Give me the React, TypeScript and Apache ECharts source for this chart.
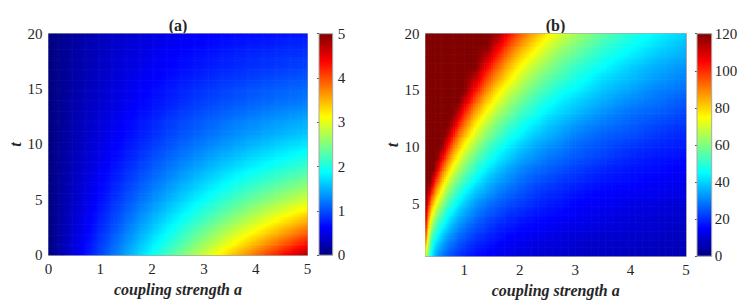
import React, { useEffect, useRef } from "react";
import * as echarts from "echarts";

// ---------- Panel (a): values at grid nodes, rows = t, columns = coupling strength a ----------
const aValuesA = [0, 0.25, 0.5, 0.75, 1, 1.25, 1.5, 1.75, 2, 2.25, 2.5, 2.75, 3, 3.25, 3.5, 3.75, 4, 4.25, 4.5, 4.75, 5];
const tValuesA = [0, 1, 2, 3, 4, 5, 6, 7, 8, 9, 10, 11, 12, 13, 14, 15, 16, 17, 18, 19, 20];
const zValuesA = [
  [0, .24, .48, .72, .96, 1.2, 1.44, 1.68, 1.92, 2.16, 2.4, 2.64, 2.88, 3.12, 3.36, 3.6, 3.84, 4.08, 4.32, 4.56, 4.8],
  [0, .23, .45, .67, .90, 1.12, 1.34, 1.56, 1.78, 2.00, 2.21, 2.43, 2.65, 2.86, 3.08, 3.29, 3.50, 3.71, 3.92, 4.13, 4.34],
  [0, .21, .42, .63, .84, 1.04, 1.25, 1.45, 1.65, 1.85, 2.04, 2.24, 2.43, 2.63, 2.82, 3.01, 3.19, 3.38, 3.56, 3.75, 3.93],
  [0, .20, .40, .59, .78, .97, 1.16, 1.35, 1.53, 1.71, 1.89, 2.06, 2.24, 2.41, 2.58, 2.75, 2.91, 3.08, 3.24, 3.40, 3.56],
  [0, .19, .37, .55, .73, .91, 1.08, 1.25, 1.42, 1.58, 1.74, 1.90, 2.06, 2.21, 2.36, 2.51, 2.66, 2.80, 2.94, 3.08, 3.22],
  [0, .18, .35, .52, .68, .85, 1.00, 1.16, 1.31, 1.46, 1.61, 1.75, 1.89, 2.03, 2.16, 2.30, 2.42, 2.55, 2.67, 2.79, 2.91],
  [0, .17, .33, .48, .64, .79, .94, 1.08, 1.22, 1.35, 1.49, 1.61, 1.74, 1.86, 1.98, 2.10, 2.21, 2.32, 2.43, 2.53, 2.64],
  [0, .16, .31, .45, .60, .74, .87, 1.00, 1.13, 1.25, 1.37, 1.49, 1.60, 1.71, 1.82, 1.92, 2.02, 2.11, 2.21, 2.30, 2.39],
  [0, .15, .29, .42, .56, .69, .81, .93, 1.05, 1.16, 1.27, 1.37, 1.47, 1.57, 1.66, 1.75, 1.84, 1.92, 2.00, 2.08, 2.16],
  [0, .14, .27, .40, .52, .64, .75, .86, .97, 1.07, 1.17, 1.26, 1.35, 1.44, 1.52, 1.60, 1.68, 1.75, 1.82, 1.89, 1.95],
  [0, .13, .25, .37, .49, .60, .70, .80, .90, .99, 1.08, 1.16, 1.24, 1.32, 1.39, 1.46, 1.53, 1.59, 1.66, 1.71, 1.77],
  [0, .12, .24, .35, .45, .56, .65, .74, .83, .92, 1.00, 1.07, 1.14, 1.21, 1.28, 1.34, 1.39, 1.45, 1.50, 1.55, 1.60],
  [0, .11, .23, .34, .43, .54, .63, .71, .79, .88, .95, 1.02, 1.08, 1.14, 1.21, 1.26, 1.31, 1.36, 1.40, 1.45, 1.49],
  [0, .11, .22, .32, .41, .49, .58, .66, .73, .80, .88, .94, 1.00, 1.05, 1.10, 1.15, 1.19, 1.24, 1.28, 1.31, 1.35],
  [0, .10, .21, .30, .38, .46, .54, .62, .68, .74, .80, .87, .92, .97, 1.01, 1.05, 1.09, 1.12, 1.16, 1.18, 1.22],
  [0, .10, .19, .29, .37, .45, .52, .59, .65, .72, .77, .82, .88, .92, .96, 1.00, 1.04, 1.06, 1.09, 1.12, 1.14],
  [0, .10, .18, .27, .34, .42, .49, .55, .61, .66, .72, .76, .80, .85, .88, .91, .94, .97, 1.00, 1.02, 1.04],
  [0, .09, .17, .25, .32, .40, .45, .51, .57, .61, .66, .70, .74, .77, .80, .83, .86, .88, .90, .92, .94],
  [0, .09, .17, .25, .31, .38, .44, .49, .55, .59, .64, .67, .71, .74, .77, .80, .82, .84, .86, .87, .88],
  [0, .08, .16, .24, .29, .36, .41, .46, .50, .55, .58, .63, .65, .68, .71, .73, .75, .76, .78, .80, .81],
  [0, .08, .15, .21, .28, .34, .38, .43, .47, .50, .54, .57, .60, .63, .65, .67, .68, .69, .71, .72, .73],
];

// ---------- Panel (b) ----------
const aValuesB = [0.3, 0.35, 0.4, 0.45, 0.5, 0.6, 0.7, 0.8, 0.9, 1.0, 1.2, 1.4, 1.6, 1.8, 2.0, 2.25, 2.5, 2.75, 3.0, 3.5, 4.0, 4.5, 5.0];
const tValuesB = [0.4, 1, 2, 3, 4, 5, 6, 7, 8, 9, 10, 11, 12, 13, 14, 15, 16, 17, 18, 19, 20];
const zValuesB = [
  [70, 57, 46, 39, 34, 29, 26, 23, 21, 19, 16, 15, 13, 12, 11, 10, 10, 9, 8, 8, 7, 7, 6],
  [78, 62, 49, 41, 37, 32, 28, 25, 23, 21, 18, 16, 14, 13, 12, 11, 10, 10, 9, 8, 8, 7, 7],
  [95, 72, 57, 49, 45, 38, 33, 30, 27, 25, 21, 19, 17, 15, 14, 13, 12, 11, 10, 9, 9, 8, 7],
  [106, 82, 66, 58, 53, 45, 40, 35, 32, 29, 25, 22, 19, 18, 16, 15, 14, 13, 12, 11, 10, 9, 8],
  [115, 92, 77, 69, 62, 53, 46, 41, 37, 34, 29, 25, 23, 20, 19, 17, 16, 15, 14, 12, 11, 10, 9],
  [120, 104, 89, 80, 73, 62, 54, 48, 43, 39, 33, 29, 26, 24, 22, 20, 18, 17, 15, 14, 12, 11, 10],
  [120, 116, 103, 93, 84, 72, 62, 55, 50, 45, 38, 34, 30, 27, 25, 22, 20, 19, 17, 15, 14, 13, 12],
  [120, 120, 118, 106, 97, 82, 71, 63, 57, 52, 44, 38, 34, 31, 28, 25, 23, 21, 20, 17, 16, 14, 13],
  [120, 120, 120, 120, 110, 93, 81, 72, 65, 59, 50, 43, 38, 34, 31, 28, 26, 24, 22, 19, 17, 16, 14],
  [120, 120, 120, 120, 120, 106, 92, 81, 73, 66, 56, 49, 43, 39, 35, 32, 29, 27, 25, 22, 19, 17, 16],
  [120, 120, 120, 120, 120, 119, 103, 91, 82, 74, 63, 54, 48, 43, 39, 35, 32, 30, 27, 24, 21, 19, 18],
  [120, 120, 120, 120, 120, 120, 115, 102, 91, 83, 70, 61, 54, 48, 44, 39, 36, 33, 30, 26, 24, 21, 19],
  [120, 120, 120, 120, 120, 120, 120, 113, 101, 92, 77, 67, 59, 53, 48, 43, 39, 36, 33, 29, 26, 23, 21],
  [120, 120, 120, 120, 120, 120, 120, 120, 112, 101, 85, 74, 65, 59, 53, 48, 43, 40, 37, 32, 28, 26, 23],
  [120, 120, 120, 120, 120, 120, 120, 120, 120, 111, 94, 81, 72, 64, 58, 52, 47, 43, 40, 35, 31, 28, 25],
  [120, 120, 120, 120, 120, 120, 120, 120, 120, 120, 103, 89, 78, 70, 64, 57, 52, 47, 44, 38, 34, 30, 28],
  [120, 120, 120, 120, 120, 120, 120, 120, 120, 120, 112, 97, 86, 77, 69, 62, 56, 52, 48, 41, 37, 33, 30],
  [120, 120, 120, 120, 120, 120, 120, 120, 120, 120, 120, 105, 93, 83, 75, 67, 61, 56, 51, 45, 39, 35, 32],
  [120, 120, 120, 120, 120, 120, 120, 120, 120, 120, 120, 114, 101, 90, 81, 73, 66, 60, 56, 48, 43, 38, 35],
  [120, 120, 120, 120, 120, 120, 120, 120, 120, 120, 120, 120, 109, 97, 88, 79, 71, 65, 60, 52, 46, 41, 37],
  [120, 120, 120, 120, 120, 120, 120, 120, 120, 120, 120, 120, 117, 105, 95, 85, 77, 70, 65, 56, 49, 44, 40],
];

// ---------- Axes / colour bars ----------
const xTicksB = [1, 2, 3, 4, 5];
const yTicksB = [5, 10, 15, 20];
const colorRangeA = [0, 5];
const colorRangeB = [0, 120];
const titles = ["(a)", "(b)"];
const xName = "coupling strength a";
const yName = "t";

const jet = ["#000080", "#0000ff", "#0080ff", "#00ffff", "#80ff80", "#ffff00", "#ff8000", "#ff0000", "#800000"];
const FONT = '"Times New Roman", "Liberation Serif", Times, serif';
const TXT = "#262626";
const FRAME = "#a8a8a8";

// Each patch spans two neighbouring grid nodes in a and t; it carries its four corner values.
function patches(av: number[], tv: number[], z: number[][]) {
  const out: number[][] = [];
  for (let j = 0; j < tv.length - 1; j++) {
    for (let i = 0; i < av.length - 1; i++) {
      out.push([av[i], tv[j], av[i + 1], tv[j + 1], z[j][i], z[j][i + 1], z[j + 1][i], z[j + 1][i + 1]]);
    }
  }
  return out;
}

function makeRenderPatch(range: number[]) {
  return (params: any, api: any) => {
    const a0 = api.value(0), t0 = api.value(1), a1 = api.value(2), t1 = api.value(3);
    const v00 = api.value(4), v10 = api.value(5), v01 = api.value(6), v11 = api.value(7);
    const pA = api.coord([a0, t1]);
    const pB = api.coord([a1, t0]);
    const w = pB[0] - pA[0];
    const h = pB[1] - pA[1];
    const nx = Math.max(1, Math.ceil(w / 2.5));
    const ny = Math.max(1, Math.ceil(h / 2.5));
    const cs = params.coordSys;
    const clip = { x: cs.x, y: cs.y, width: cs.width, height: cs.height };
    const children: any[] = [];
    for (let iy = 0; iy < ny; iy++) {
      for (let ix = 0; ix < nx; ix++) {
        const u = (ix + 0.5) / nx;
        const s = 1 - (iy + 0.5) / ny;
        const v = (v00 * (1 - u) + v10 * u) * (1 - s) + (v01 * (1 - u) + v11 * u) * s;
        const ratio = Math.min(1, Math.max(0, (v - range[0]) / (range[1] - range[0])));
        const r = echarts.graphic.clipRectByRect(
          { x: pA[0] + (w * ix) / nx, y: pA[1] + (h * iy) / ny, width: w / nx + 0.6, height: h / ny + 0.6 },
          clip
        );
        if (r) children.push({ type: "rect", shape: r, style: { fill: echarts.color.lerp(ratio, jet) } });
      }
    }
    return { type: "group", children };
  };
}

const renderBar = (params: any, api: any) => {
  const p0 = api.coord([0, api.value(2)]);
  const p1 = api.coord([1, api.value(1)]);
  return {
    type: "rect",
    shape: { x: p0[0], y: p0[1], width: p1[0] - p0[0], height: p1[1] - p0[1] },
    style: {
      fill: new echarts.graphic.LinearGradient(0, 1, 0, 0, jet.map((c, i) => ({ offset: i / (jet.length - 1), color: c }))),
      stroke: FRAME,
      lineWidth: 1,
    },
  };
};

const labelStyle = { fontFamily: FONT, fontSize: 15, fontWeight: "normal", fontStyle: "normal", color: TXT };
const nameStyle = { fontFamily: FONT, fontSize: 16, fontWeight: "bold", fontStyle: "italic", color: TXT };

function mainX(gridIndex: number, min: number, custom?: number[]) {
  return {
    type: "value", gridIndex, min, max: 5, ...(custom ? {} : { interval: 1 }),
    axisLine: { show: true, onZero: false, lineStyle: { color: FRAME, width: 1 } },
    axisTick: { show: true, inside: true, length: 3, lineStyle: { color: FRAME }, ...(custom ? { customValues: custom } : {}) },
    axisLabel: { ...labelStyle, margin: 6, ...(custom ? { customValues: custom } : {}) },
    splitLine: { show: false },
    name: xName, nameLocation: "middle", nameGap: 25, nameTextStyle: nameStyle,
  };
}
function topX(gridIndex: number, min: number) {
  return {
    type: "value", gridIndex, min, max: 5, position: "top",
    axisLine: { show: true, onZero: false, lineStyle: { color: FRAME, width: 1 } },
    axisTick: { show: false }, axisLabel: { show: false }, splitLine: { show: false },
  };
}
function mainY(gridIndex: number, min: number, custom?: number[]) {
  return {
    type: "value", gridIndex, min, max: 20, ...(custom ? {} : { interval: 5 }),
    axisLine: { show: true, onZero: false, lineStyle: { color: FRAME, width: 1 } },
    axisTick: { show: true, inside: true, length: 3, lineStyle: { color: FRAME }, ...(custom ? { customValues: custom } : {}) },
    axisLabel: { ...labelStyle, margin: 6, ...(custom ? { customValues: custom } : {}) },
    splitLine: { show: false },
    name: yName, nameLocation: "middle", nameGap: 16, nameRotate: 90, nameTextStyle: nameStyle,
  };
}
function rightY(gridIndex: number, min: number) {
  return {
    type: "value", gridIndex, min, max: 20, position: "right",
    axisLine: { show: true, onZero: false, lineStyle: { color: FRAME, width: 1 } },
    axisTick: { show: false }, axisLabel: { show: false }, splitLine: { show: false },
  };
}
function barX(gridIndex: number) {
  return { type: "value", gridIndex, min: 0, max: 1, show: false };
}
function barY(gridIndex: number, range: number[], interval: number, margin: number) {
  return {
    type: "value", gridIndex, min: range[0], max: range[1], interval, position: "right",
    axisLine: { show: false },
    axisTick: { show: true, inside: true, length: 2, lineStyle: { color: "#555" } },
    axisLabel: { ...labelStyle, margin },
    splitLine: { show: false },
  };
}

export default function App() {
  const ref = useRef<HTMLDivElement>(null);
  useEffect(() => {
    if (!ref.current) return;
    const chart = echarts.init(ref.current, undefined, { renderer: "svg" });
    chart.setOption({
      animation: false,
      backgroundColor: "#ffffff",
      textStyle: { fontFamily: FONT, color: TXT },
      grid: [
        { left: 48.5, top: 33.7, width: 259, height: 221.5 },
        { left: 319, top: 33.7, width: 13.7, height: 221.5 },
        { left: 425.5, top: 33.7, width: 260.5, height: 222.5 },
        { left: 697, top: 33.7, width: 14.7, height: 222.5 },
      ],
      xAxis: [
        mainX(0, 0), topX(0, 0), barX(1),
        mainX(2, 0.3, xTicksB), topX(2, 0.3), barX(3),
      ],
      yAxis: [
        mainY(0, 0), rightY(0, 0), barY(1, colorRangeA, 1, 5),
        mainY(2, 0.4, yTicksB), rightY(2, 0.4), barY(3, colorRangeB, 20, 3),
      ],
      series: [
        { type: "custom", xAxisIndex: 0, yAxisIndex: 0, encode: { x: [0, 2], y: [1, 3] }, renderItem: makeRenderPatch(colorRangeA), data: patches(aValuesA, tValuesA, zValuesA), silent: true },
        { type: "custom", xAxisIndex: 2, yAxisIndex: 2, encode: { x: 0, y: 1 }, renderItem: renderBar, data: [[0, colorRangeA[0], colorRangeA[1]]], silent: true, z: 3 },
        { type: "custom", xAxisIndex: 3, yAxisIndex: 3, encode: { x: [0, 2], y: [1, 3] }, renderItem: makeRenderPatch(colorRangeB), data: patches(aValuesB, tValuesB, zValuesB), silent: true },
        { type: "custom", xAxisIndex: 5, yAxisIndex: 5, encode: { x: 0, y: 1 }, renderItem: renderBar, data: [[0, colorRangeB[0], colorRangeB[1]]], silent: true, z: 3 },
      ],
      graphic: [
        { type: "text", x: 178, y: 25.5, style: { text: titles[0], font: `bold 16px ${FONT}`, fill: TXT, textAlign: "center", textVerticalAlign: "middle" } },
        { type: "text", x: 555.5, y: 25.5, style: { text: titles[1], font: `bold 16px ${FONT}`, fill: TXT, textAlign: "center", textVerticalAlign: "middle" } },
      ],
    });
    return () => chart.dispose();
  }, []);
  return <div ref={ref} style={{ position: "absolute", left: 0, top: 0, width: 750, height: 306, background: "#fff" }} />;
}
